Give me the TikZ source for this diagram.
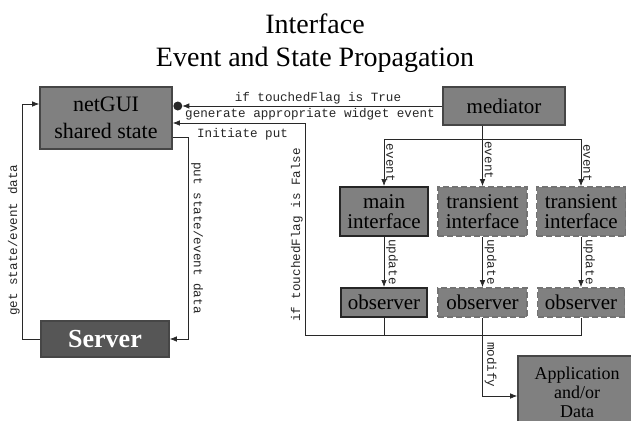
\documentclass[tikz,border=0pt]{standalone}
\usepackage{fontspec}
\setmainfont{Liberation Serif}
\setmonofont{Liberation Mono}
\usetikzlibrary{arrows.meta,calc}

\definecolor{boxgray}{RGB}{128,128,128}
\definecolor{srvgray}{RGB}{86,86,86}
\definecolor{edgegray}{RGB}{70,70,70}
\definecolor{linegray}{RGB}{40,40,40}

\tikzset{
  block/.style={draw=edgegray, line width=1.6pt, fill=boxgray, inner sep=0pt,
    align=center, font=\fontsize{21}{20}\selectfont},
  softblock/.style={block, draw=black!55, dash pattern=on 6pt off 3pt},
  hardblock/.style={block, draw=black!85, line width=2pt},
  lbl/.style={font=\ttfamily\fontsize{12.6}{13}\selectfont, inner sep=2pt, text=black!85},
  flow/.style={draw=linegray, line width=0.7pt},
  arr/.style={flow, -{Latex[length=7pt,width=5.5pt]}},
}

\begin{document}
\begin{tikzpicture}[x=1pt,y=-1pt]
\useasboundingbox (0,0) rectangle (631,420);

\node[font=\fontsize{28}{33}\selectfont, align=center] (title) at (315,43)
  {Interface\\Event and State Propagation};

% boxes
\node[block, minimum width=132pt, minimum height=62pt,
  font=\fontsize{22}{27}\selectfont] (gui) at (106,118) {netGUI\\shared state};
\node[block, minimum width=122pt, minimum height=38pt] (med) at (504,106) {mediator};
\node[hardblock, minimum width=88pt, minimum height=49pt] (main) at (384,211.5) {main\\interface};
\node[softblock, minimum width=89pt, minimum height=49pt] (tr1) at (482.5,211.5) {transient\\interface};
\node[softblock, minimum width=89pt, minimum height=49pt] (tr2) at (581,211.5) {transient\\interface};
\node[hardblock, minimum width=86pt, minimum height=29pt] (obs1) at (384,302.5) {observer};
\node[softblock, minimum width=89pt, minimum height=29pt] (obs2) at (482.5,302.5) {observer};
\node[softblock, minimum width=87pt, minimum height=29pt] (obs3) at (581,302.5) {observer};
\node[block, fill=srvgray, minimum width=128pt, minimum height=36pt, text=white,
  font=\bfseries\fontsize{26}{28}\selectfont] (srv) at (105,339) {Server};
\node[block, minimum width=118pt, minimum height=72pt,
  font=\fontsize{18}{19}\selectfont] (app) at (577,392) {Application\\and/or\\Data};

% mediator back to shared state
\coordinate (dot) at ($(gui.east |- med.west)+(5,0)$);
\draw[arr, shorten >=4.5pt] (med.west) -- (dot)
  node[lbl, pos=.47, above] {if touchedFlag is True}
  node[lbl, pos=.5, below] {generate appropriate widget event};
\fill[linegray] (dot) circle (4.5pt);

% observers feed back
\coordinate (fb) at (305,335);
\draw[flow] (obs1.south) -- (obs1.south |- fb);
\draw[flow] (obs3.south) |- (fb);
\draw[arr] (fb) |- ([yshift=-5pt]gui.east)
  node[lbl, pos=.236, rotate=90, anchor=south] {if touchedFlag is False};

% put / get with the server
\draw[arr] ([yshift=-19pt]gui.east) -| ([xshift=19pt]srv.east)
  node[lbl, pos=.5, right, xshift=6pt, yshift=3pt] {Initiate put}
  node[lbl, pos=.75, rotate=-90, anchor=south] {put state/event data}
  -- (srv.east);
\draw[arr] (srv.west) -- ++(-18,0) |- ([yshift=14pt]gui.west)
  node[lbl, pos=.21, rotate=90, anchor=south] {get state/event data};

% events
\coordinate (split) at ($(tr1 |- med.south)+(0,14)$);
\draw[arr] (tr1 |- med.south) -- (tr1.north)
  node[lbl, pos=.57, rotate=-90, anchor=south] {event};
\draw[arr] (split) -| (main.north) node[lbl, pos=.75, rotate=-90, anchor=south] {event};
\draw[arr] (split) -| (tr2.north) node[lbl, pos=.75, rotate=-90, anchor=south] {event};

% updates
\foreach \a/\b in {main/obs1, tr1/obs2, tr2/obs3}
  \draw[arr] (\a.south) -- (\b.north) node[lbl, midway, rotate=-90, anchor=south] {update};

\draw[arr] (obs2.south) |- ([yshift=-4pt]app.west)
  node[lbl, pos=.3, rotate=-90, anchor=south] {modify};
\end{tikzpicture}
\end{document}
